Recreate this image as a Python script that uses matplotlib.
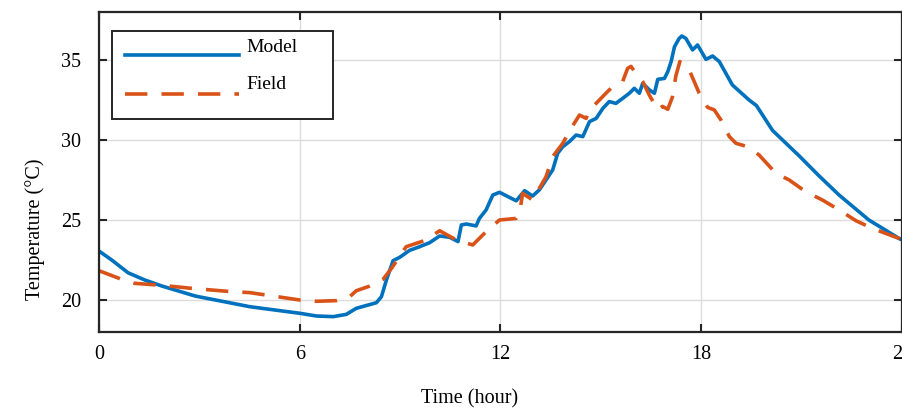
"""Model vs field temperature over one day."""
import matplotlib
matplotlib.use("Agg")
import matplotlib.pyplot as plt
from matplotlib.lines import Line2D
from matplotlib.patches import Rectangle

plt.rcParams['font.family'] = ['Liberation Serif', 'DejaVu Serif']

# values
model_t = [0.0, 0.38, 0.87, 1.37, 1.87, 2.87, 4.51, 6.0, 6.5, 7.0, 7.39, 7.69,
           8.29, 8.44, 8.59, 8.79, 8.99, 9.28, 9.58, 9.88, 10.18, 10.48,
           10.73, 10.83, 10.98, 11.27, 11.37, 11.57, 11.77, 11.97, 12.47,
           12.72, 12.96, 13.16, 13.36, 13.56, 13.71, 13.86, 14.06, 14.26,
           14.46, 14.66, 14.86, 15.06, 15.25, 15.45, 15.65, 15.85, 16.0,
           16.15, 16.25, 16.45, 16.6, 16.7, 16.9, 17.0, 17.1, 17.2, 17.34,
           17.42, 17.54, 17.74, 17.89, 18.14, 18.34, 18.54, 18.93, 19.43,
           19.65, 20.13, 20.93, 21.5, 22.12, 23.01, 23.91, 24.0]
model_temp = [23.06, 22.5, 21.7, 21.25, 20.88, 20.25, 19.58, 19.17, 19.0,
              18.96, 19.1, 19.48, 19.83, 20.2, 21.25, 22.46, 22.67, 23.1,
              23.33, 23.58, 24.0, 23.92, 23.65, 24.69, 24.75, 24.63, 25.1,
              25.63, 26.56, 26.73, 26.2, 26.83, 26.5, 26.88, 27.5, 28.13,
              29.17, 29.58, 29.9, 30.31, 30.21, 31.15, 31.35, 31.98, 32.4,
              32.29, 32.6, 32.92, 33.23, 32.92, 33.54, 33.13, 32.92, 33.79,
              33.85, 34.27, 34.9, 35.83, 36.35, 36.5, 36.35, 35.63, 35.94,
              35.04, 35.25, 34.9, 33.44, 32.5, 32.15, 30.6, 29.0, 27.8,
              26.56, 25.0, 23.85, 23.75]

field_t = [0.0, 0.63, 1.07, 1.87, 2.76, 3.85, 4.51, 6.0, 6.5, 7.09, 7.49,
           7.69, 8.09, 8.49, 8.75, 9.18, 9.78, 10.18, 10.68, 11.17, 11.57,
           11.97, 12.47, 12.57, 12.66, 12.96, 13.36, 13.56, 13.86, 14.11,
           14.36, 14.56, 14.66, 14.91, 15.15, 15.3, 15.65, 15.8, 15.9, 16.1,
           16.25, 16.45, 16.7, 16.84, 17.0, 17.14, 17.24, 17.36, 17.64,
           17.94, 18.19, 18.39, 18.59, 18.84, 19.04, 19.39, 19.73, 20.23,
           20.63, 21.12, 21.62, 22.12, 22.62, 23.11, 23.91, 24.0]
field_temp = [21.83, 21.33, 21.04, 20.92, 20.73, 20.54, 20.46, 20.0, 19.92,
              19.96, 20.2, 20.58, 20.87, 21.29, 22.0, 23.33, 23.75, 24.33,
              23.75, 23.44, 24.27, 25.0, 25.1, 25.42, 26.67, 26.25, 27.7,
              28.96, 29.79, 30.73, 31.56, 31.35, 31.88, 32.4, 32.92, 33.23,
              33.65, 34.48, 34.6, 34.0, 33.65, 32.8, 31.88, 32.1, 31.92,
              32.7, 34.0, 34.9, 34.38, 32.92, 32.04, 31.88, 31.25, 30.21,
              29.79, 29.58, 29.06, 27.92, 27.5, 26.77, 26.25, 25.63, 24.96,
              24.48, 23.85, 23.8]

x_ticks = [0, 6, 12, 18, 24]
y_ticks = [20, 25, 30, 35]

blue = '#0072BD'
orange = '#D95319'

fig = plt.figure(figsize=(9.02, 4.11), dpi=100)
ax = fig.add_axes([99 / 902, 1 - 332 / 411, 803 / 902, 320 / 411])

ax.plot(model_t, model_temp, color=blue, lw=2.6, solid_joinstyle='round')
ax.plot(field_t, field_temp, color=orange, lw=2.6, dashes=(6.2, 3.9))

ax.set_xlim(0, 24)
ax.set_ylim(18, 38)
ax.set_xticks(x_ticks)
ax.set_yticks(y_ticks)
ax.grid(True, color='#dcdcdc', lw=1.0)
ax.tick_params(direction='in', length=6, width=1.5, labelsize=14.5,
               top=True, right=True, color='#262626')
ax.tick_params(axis='x', pad=9)
ax.tick_params(axis='y', pad=13)
for s in ax.spines.values():
    s.set_linewidth(1.6)
    s.set_color('#262626')

ax.set_xlabel('Time (hour)', fontsize=14.5, va='center')
ax.xaxis.set_label_coords(0.461, -0.209)
ax.set_ylabel('Temperature (°C)', fontsize=14.5, va='center')
ax.yaxis.set_label_coords(-0.0797, 0.322)

# legend drawn by hand, MATLAB style
ax.add_patch(Rectangle((0.0168, 0.667), 0.274, 0.275, transform=ax.transAxes,
                       facecolor='white', edgecolor='#262626', lw=1.4, zorder=5))
ax.add_line(Line2D([0.0324, 0.1743], [0.8656, 0.8656], transform=ax.transAxes,
                   color=blue, lw=2.6, zorder=6))
ax.add_line(Line2D([0.0324, 0.1743], [0.744, 0.744], transform=ax.transAxes,
                   color=orange, lw=2.6, dashes=(6.2, 3.9), zorder=6))
ax.text(0.184, 0.888, 'Model', transform=ax.transAxes, fontsize=14,
        va='center', ha='left', zorder=7)
ax.text(0.184, 0.772, 'Field', transform=ax.transAxes, fontsize=14,
        va='center', ha='left', zorder=7)

fig.savefig('out.png', dpi=100)
